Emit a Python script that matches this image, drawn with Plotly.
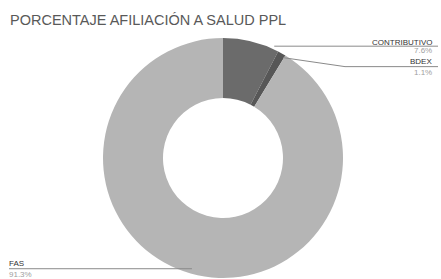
import math
import plotly.graph_objects as go

# ---- data ----
categories = ["CONTRIBUTIVO", "BDEX", "FAS"]
values = [7.6, 1.1, 91.3]
pct_labels = ["7.6%", "1.1%", "91.3%"]
colors = ["#6b6b6b", "#575757", "#b5b5b5"]
title_text = "PORCENTAJE AFILIACIÓN A SALUD PPL"

W, H = 441, 279
cx, cy, R = 223, 158, 120  # pie centre/radius in px

def px(x):
    return x / W

def py(y):
    return 1 - y / H

fig = go.Figure(go.Pie(
    labels=categories, values=values, hole=0.5, sort=False,
    direction="clockwise", rotation=0,
    marker=dict(colors=colors, line=dict(width=0)),
    textinfo="none", hoverinfo="label+percent", showlegend=False,
    domain=dict(x=[px(cx - R), px(cx + R)], y=[py(cy + R), py(cy - R)]),
))

# slice boundary angles (degrees clockwise from 12 o'clock)
total = sum(values)
cum = [0]
for v in values:
    cum.append(cum[-1] + v / total * 360)

def point(angle, r):
    a = math.radians(angle)
    return cx + r * math.sin(a), cy - r * math.cos(a)

line_col = "#8a8a8a"
lab_font = dict(size=8, color="#333333", family="Liberation Sans, Arial, sans-serif")
pct_font = dict(size=8, color="#a0a0a0", family="Liberation Sans, Arial, sans-serif")
RX = 433
shapes = []
annotations = []

def add_text(x, y, text, font, anchor):
    annotations.append(dict(x=px(x), y=py(y), xref="paper", yref="paper",
                            text=text, showarrow=False, xanchor=anchor, yanchor="middle",
                            font=font, borderpad=0))

# CONTRIBUTIVO leader
ang0 = cum[0] + 0.9 * (cum[1] - cum[0])
x0, y0 = point(ang0, R + 3)
shapes.append(dict(type="line", xref="paper", yref="paper",
                   x0=px(x0), y0=py(y0), x1=px(438), y1=py(y0),
                   line=dict(color=line_col, width=1)))
add_text(RX, y0 - 4, categories[0], lab_font, "right")
add_text(RX, y0 + 4.5, pct_labels[0], pct_font, "right")

# BDEX leader
ang1 = cum[1] + 0.9 * (cum[2] - cum[1])
x1, y1 = point(ang1, R - 3)
yb = y1 + 9
shapes.append(dict(type="path", xref="paper", yref="paper",
                   path=f"M {px(x1)},{py(y1)} L {px(345)},{py(yb)} L {px(438)},{py(yb)}",
                   line=dict(color=line_col, width=1)))
add_text(RX, yb - 5.5, categories[1], lab_font, "right")
add_text(RX, yb + 6, pct_labels[1], pct_font, "right")

# FAS leader
ang2 = (cum[2] + cum[3]) / 2
x2, y2 = point(ang2, R - 5)
shapes.append(dict(type="line", xref="paper", yref="paper",
                   x0=px(x2), y0=py(y2), x1=px(9), y1=py(y2),
                   line=dict(color=line_col, width=1)))
add_text(8, y2 - 5.5, categories[2], lab_font, "left")
add_text(8, y2 + 5.5, pct_labels[2], pct_font, "left")

# title
annotations.append(dict(x=px(8), y=py(20), xref="paper", yref="paper",
                        text=title_text, showarrow=False, xanchor="left", yanchor="middle",
                        font=dict(size=14.5, color="#595959",
                                  family="Liberation Sans Narrow, Arial Narrow, Liberation Sans, Arial")))

fig.update_layout(
    width=W, height=H, margin=dict(l=0, r=0, t=0, b=0),
    paper_bgcolor="white", plot_bgcolor="white",
    font=dict(family="Liberation Sans, Arial, sans-serif"),
    shapes=shapes, annotations=annotations,
)

fig.write_html("out.html", config={"displayModeBar": False},
               post_script="document.body.style.margin='0';document.body.style.overflow='hidden';")
